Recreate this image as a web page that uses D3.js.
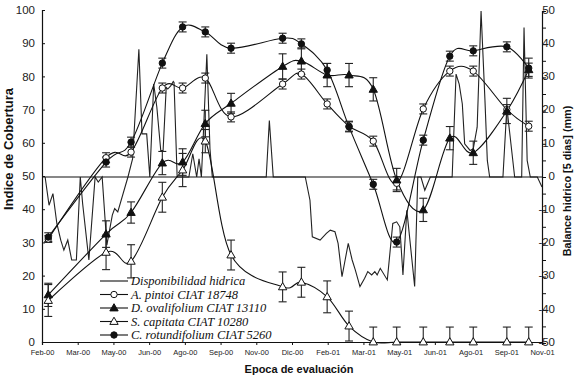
<!DOCTYPE html>
<html><head><meta charset="utf-8">
<script src="https://cdn.jsdelivr.net/npm/d3@7"></script>
<style>body{margin:0;background:#fff}svg{display:block}</style>
</head><body><svg id="c" width="579" height="378"></svg>
<script>
// ---- data ----
const tickLabels = ["Feb-00","Mar-00","May-00","Jun-00","Ago-00","Sep-00","Nov-00","Dic-00","Feb-01","Mar-01","May-01","Jun-01","Ago-01","Sep-01","Nov-01"];
// sampling dates, days since 1 Feb 2000
const sampleDays = [8, 82, 114, 154, 180, 209, 242, 308, 332, 365, 393, 424, 454, 488, 522, 552, 595, 623];
const pintoi      = [31, 55.5, 57.2, 76.5, 76.5, 79.5, 67.8, 77.7, 80.7, 71.7, 65, 60.5, 47.8, 70.2, 81.6, 81.6, 70, 65];
const pintoiErr   = [1, 1.5, 1.5, 1.5, 1.5, 1.5, 1.5, 1.5, 1.5, 1.5, 1.5, 1.5, 2, 1.5, 1.5, 1.5, 1.5, 1.5];
const ovalifolium = [14.2, 32.5, 39, 53.9, 54.2, 65.8, 71.9, 83, 84.6, 80.4, 80.4, 76.1, 48.8, 39.8, 61.4, 57, 69.6, 82];
const ovalErr     = [3.5, 4, 3.2, 3.5, 4, 4, 3, 3.8, 4, 3.5, 3.5, 3.5, 3.5, 3.5, 3.5, 3.5, 3.8, 2];
const capitata    = [12.5, 27, 24.3, 43.6, 51.8, 60.5, 26.2, 16.6, 18, 13.6, 4.8, 0, 0, 0, 0, 0, 0, 0];
const capErr      = [4.8, 5.2, 5, 4.5, 5, 3.5, 4.5, 4.5, 4.5, 4.8, 4.5, 4.5, 4.5, 4.5, 4.5, 4.5, 4.5, 4.5];
const rotundifolium = [31.6, 54.2, 60.2, 84, 94.9, 93.4, 88.5, 91.5, 89.8, 81.9, 64.8, 47.5, 30.1, 60.8, 86.1, 87.7, 88.9, 82.5];
const rotErr      = [1.3, 1.5, 1.5, 1.5, 1.5, 1.5, 1.5, 1.5, 1.5, 2, 1.5, 1.5, 1.5, 1.5, 1.5, 1.5, 1.5, 3];
// water balance (5-day), mm
const balanceDays = [4,9,14,19,24,28,33,38,44,49,52,60,68,72,77,83,90,93,97,110,116,124,128,134,138,143,147,152,155,159,161,165,168,169,173,188,193,198,201,204,206,211,215,218,287,291,296,337,343,346,356,364,369,375,379,384,388,392,397,401,407,413,417,422,426,429,433,442,449,454,458,462,467,477,481,485,490,497,525,530,534,538,541,548,552,557,562,567,570,573,590,595,605,614,617,621,625,634,640];
const balanceValues = [0,-8.5,-5,-14,-19,-22,-19,-25,-25,0,-8,-25,0,-1.5,0,-20.5,-11.5,-9.5,-10.5,0,5.5,38.5,13,13,0,28,21,8,8,27,26.5,27.5,28.8,28.5,0,0,7,0,5.5,0,10,37,8.5,0,0,17,0,0,-7,-18,-19,-17,-16,-16.5,-20,-30,-25,-20,-25,-28,-33,-30.5,-28.5,-29.5,-28.5,-29.5,-27.5,-31,-14,-13.5,-15,-29.5,-10,-33,0,0,-4,0,0,31,28,22,10,8,8.5,15,50,23,5,0,0,21,0,0,45,5,0,0,-3];

const legendNames = ["Disponibilidad hidrica","A. pintoi CIAT 18748","D. ovalifolium CIAT 13110","S. capitata CIAT 10280","C. rotundifolium CIAT 5260"];

// ---- chart ----
const svg = d3.select("#c");
const X0 = 42, X1 = 542, YT = 10, YB = 342;
const x = d3.scaleLinear().domain([0, 640]).range([X0, X1]);
const yL = d3.scaleLinear().domain([0, 100]).range([YB, YT]);
const yR = d3.scaleLinear().domain([-50, 50]).range([YB + 1, YT + 1]);
const ink = "#111";

// balance line
svg.append("path")
  .attr("d", d3.line().x((d,i)=>x(balanceDays[i])).y(d=>yR(d))(balanceValues))
  .attr("fill","none").attr("stroke","#222").attr("stroke-width",1.1);

// zero line
svg.append("line").attr("x1",X0).attr("x2",X1).attr("y1",yR(0)).attr("y2",yR(0))
  .attr("stroke",ink).attr("stroke-width",1.2);

// axes
const tickVals = tickLabels.map((d,i)=> i*640/14);
const gx = svg.append("g").attr("transform",`translate(0,${YB})`)
  .call(d3.axisBottom(x).tickValues(tickVals).tickFormat((d,i)=>tickLabels[i]).tickSize(3).tickPadding(5));
gx.selectAll("text").attr("font-size","7.5px").attr("font-family","Liberation Sans, Arial, sans-serif").attr("fill","#222");

const gl = svg.append("g").attr("transform",`translate(${X0},0)`)
  .call(d3.axisLeft(yL).tickValues(d3.range(0,101,10)).tickSize(-3).tickPadding(7));
gl.selectAll("text").attr("font-size","11.5px").attr("font-family","Liberation Sans, Arial, sans-serif").attr("fill","#222");

const gr = svg.append("g").attr("transform",`translate(${X1},0)`)
  .call(d3.axisRight(yR).tickValues(d3.range(-50,51,5)).tickSize(4)
    .tickFormat(d=> d%10===0 ? d : ""));
gr.selectAll("text").attr("font-size","11.5px").attr("font-family","Liberation Sans, Arial, sans-serif")
  .attr("fill","#222").attr("text-anchor","end").attr("x",13).attr("dy","0.2em");
[gx,gl,gr].forEach(g=>{ g.select(".domain").attr("stroke",ink).attr("stroke-width",1.2); g.selectAll(".tick line").attr("stroke",ink); });

// series
const series = [
  {vals:pintoi, err:pintoiErr, marker:"circle", fill:"#fff"},
  {vals:ovalifolium, err:ovalErr, marker:"triangle", fill:ink},
  {vals:capitata, err:capErr, marker:"triangle", fill:"#fff"},
  {vals:rotundifolium, err:rotErr, marker:"circle", fill:ink}
];
const smooth = d3.line().curve(d3.curveCardinal.tension(0)).x((d,i)=>x(sampleDays[i])).y(d=>yL(d));
series.forEach(s=>{
  svg.append("path").attr("d", smooth(s.vals)).attr("fill","none").attr("stroke",ink).attr("stroke-width",1.1);
});
series.forEach(s=>{
  const g = svg.append("g");
  s.vals.forEach((v,i)=>{
    const cx = x(sampleDays[i]);
    const top = yL(Math.min(100, v + s.err[i])), bot = yL(Math.max(0, v - s.err[i]));
    g.append("line").attr("x1",cx).attr("x2",cx).attr("y1",top).attr("y2",bot).attr("stroke","#222").attr("stroke-width",1.1);
    g.append("line").attr("x1",cx-4).attr("x2",cx+4).attr("y1",top).attr("y2",top).attr("stroke","#222").attr("stroke-width",1.1);
    if (v - s.err[i] > 0) g.append("line").attr("x1",cx-4).attr("x2",cx+4).attr("y1",bot).attr("y2",bot).attr("stroke","#222").attr("stroke-width",1.1);
  });
});
function drawMarker(g, type, cx, cy, fill){
  if (type==="circle") {
    g.append("circle").attr("cx",cx).attr("cy",cy).attr("r",3.2).attr("fill",fill).attr("stroke",ink).attr("stroke-width",1);
  } else {
    g.append("path").attr("d", d3.symbol(d3.symbolTriangle, 30)()).attr("transform",`translate(${cx},${cy+0.5})`)
      .attr("fill",fill).attr("stroke",ink).attr("stroke-width",1);
  }
}
series.forEach(s=>{
  const g = svg.append("g");
  s.vals.forEach((v,i)=> drawMarker(g, s.marker, x(sampleDays[i]), yL(v), s.fill));
});

// legend
const lg = svg.append("g");
legendNames.forEach((name,i)=>{
  const ly = 281 + i*13.5;
  lg.append("line").attr("x1",100).attr("x2",128).attr("y1",ly).attr("y2",ly).attr("stroke",ink).attr("stroke-width",1.1);
  if (i>0) { const s = series[i-1]; drawMarker(lg, s.marker, 114, ly, s.fill); }
  lg.append("text").attr("x",131).attr("y",ly+4).text(name)
    .attr("font-family","Liberation Serif, Times New Roman, serif").attr("font-style","italic").attr("font-size","12.5px").attr("fill","#111");
});

// titles
svg.append("text").attr("transform","translate(13,149) rotate(-90)").attr("text-anchor","middle")
  .attr("font-family","Liberation Sans, Arial, sans-serif").attr("font-weight","bold").attr("font-size","13px").attr("fill","#111")
  .text("Indice de Cobertura");
svg.append("text").attr("transform","translate(571,181) rotate(-90)").attr("text-anchor","middle")
  .attr("font-family","Liberation Sans, Arial, sans-serif").attr("font-weight","bold").attr("font-size","10.8px").attr("fill","#111")
  .text("Balance hidrico [5 dias] (mm)");
svg.append("text").attr("x",299).attr("y",373).attr("text-anchor","middle")
  .attr("font-family","Liberation Sans, Arial, sans-serif").attr("font-weight","bold").attr("font-size","11px").attr("fill","#111")
  .text("Epoca de evaluación");
</script></body></html>
